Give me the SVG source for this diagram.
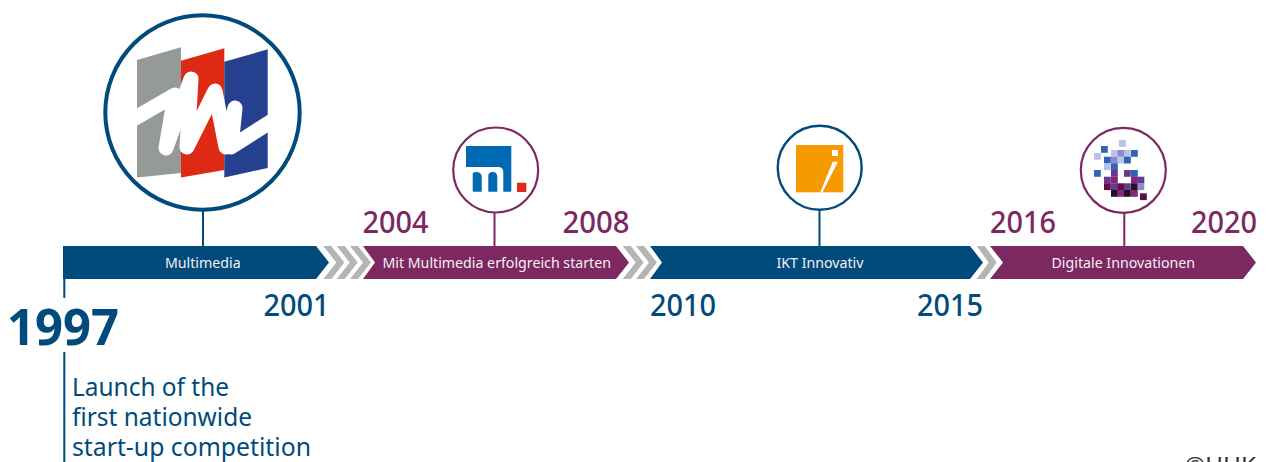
<svg xmlns="http://www.w3.org/2000/svg" width="1266" height="462" viewBox="0 0 1266 462">
<style>
text{font-family:"Noto Sans","Liberation Sans",sans-serif}
.b{fill:#004b7c}.p{fill:#7d2861}.g{fill:#b4b5b4}
.yr{font-size:30px;font-weight:500}
.lb{font-size:14.2px;fill:#f4f0f4;text-anchor:middle}
.d{font-size:25px;fill:#004b7c}
.cb{fill:#fff;stroke:#004b7c}.cp{fill:#fff;stroke:#7d2861;stroke-width:2.2}
rect.x{width:6.800px;height:6.800px}
.l{fill:#b9c2ea}.m{fill:#8a8ad0}.u{fill:#2f66b4}.v{fill:#66398f}.a{fill:#8c2280}.k{fill:#5c1047}.n{fill:#201424}
</style>
<rect width="1266" height="462" fill="#fff"/>
<g id="connectors" fill="none" stroke-width="2">
<path d="M203 211V246" stroke="#004b7c"/>
<path d="M494.500 212V246" stroke="#7d2861"/>
<path d="M819.500 210V246" stroke="#004b7c"/>
<path d="M1124.300 213V246" stroke="#7d2861"/>
<path d="M64.300 279V298M64.300 352V462" stroke="#004b7c"/>
</g>
<g id="chevrons" class="g">
<path d="M323.300 246h8l13 16.500-13 16.500h-8l13-16.500z"/>
<path d="M336.700 246h8l13 16.500-13 16.500h-8l13-16.500z"/>
<path d="M350 246h8l13 16.500-13 16.500h-8l13-16.500z"/>
<path d="M622.700 246h8l13 16.500-13 16.500h-8l13-16.500z"/>
<path d="M636 246h8l13 16.500-13 16.500h-8l13-16.500z"/>
<path d="M976.700 246h8l12 16.500-12 16.500h-8l12-16.500z"/>
</g>
<g id="bar-multimedia">
<path class="b" d="M63 246H316L329 262.500 316 279H63z"/>
<text class="lb" x="202.800" y="268">Multimedia</text>
<text class="yr b" x="263.500" y="316" textLength="66" lengthAdjust="spacingAndGlyphs">2001</text>
</g>
<g id="bar-mit">
<path class="p" d="M363 246H616L629 262.500 616 279H363L375 262.500z"/>
<text class="lb" x="496.700" y="268">Mit Multimedia erfolgreich starten</text>
<text class="yr p" x="362.500" y="232.500" textLength="66" lengthAdjust="spacingAndGlyphs">2004</text>
<text class="yr p" x="562.500" y="232.500" textLength="67" lengthAdjust="spacingAndGlyphs">2008</text>
</g>
<g id="bar-ikt">
<path class="b" d="M650 246H970L983 262.500 970 279H650L662 262.500z"/>
<text class="lb" x="820" y="268">IKT Innovativ</text>
<text class="yr b" x="650" y="316" textLength="66" lengthAdjust="spacingAndGlyphs">2010</text>
<text class="yr b" x="917" y="316" textLength="66" lengthAdjust="spacingAndGlyphs">2015</text>
</g>
<g id="bar-digital">
<path class="p" d="M990 246H1243L1256 262.500 1243 279H990L1003 262.500z"/>
<text class="lb" x="1123.300" y="268">Digitale Innovationen</text>
<text class="yr p" x="990" y="232.500" textLength="66" lengthAdjust="spacingAndGlyphs">2016</text>
<text class="yr p" x="1191" y="232.500" textLength="66" lengthAdjust="spacingAndGlyphs">2020</text>
</g>
<g id="node-multimedia">
<circle class="cb" cx="202.500" cy="112.500" r="97.200" stroke-width="4"/>
<path fill="#959a98" d="M137 60L181 47.300V173L137 177.500z"/>
<path fill="#dc2a14" d="M181 60.700L224.300 48.300V170L181 177.500z"/>
<path fill="#25408f" d="M224.300 61.700L267.700 49.300V168L224.300 177.500z"/>
<path fill="none" stroke="#fff" stroke-width="15" stroke-linejoin="round" d="M130 121L175 95 166 148 191 79 187 147 215 91 226 147 235 108 231 147 275 119"/>
</g>
<g id="node-mit">
<circle class="cp" cx="495.700" cy="170" r="42.500"/>
<path fill="#0069b4" d="M466 146H511.300V191.700H503.300V172Q503.300 167 498 167H466zM472.700 191.700V174Q472.700 172 476 172 481.700 172 481.700 177V191.700zM488.300 191.700V176Q488.300 172 492.500 172 497.300 172 497.300 177V191.700z"/>
<rect x="517" y="182.700" width="9.300" height="9.300" fill="#dc2a1e"/>
</g>
<g id="node-ikt">
<circle class="cb" cx="819.700" cy="167.800" r="42" stroke-width="2.400"/>
<rect x="796" y="145" width="47.300" height="47.300" fill="#f59a00"/>
<rect x="832" y="150" width="6" height="6" fill="#fff"/>
<path fill="#fff" d="M820.300 192.300L832.700 161.700H838L822.500 192.300z"/>
</g>
<g id="node-digital">
<circle class="cp" cx="1123.300" cy="170.300" r="42.500"/>
<g id="pixels">
<rect class="x l" x="1119" y="140"/>
<rect class="x u" x="1101" y="146"/>
<rect class="x l" x="1111" y="150"/><rect class="x m" x="1117.500" y="150"/><rect class="x l" x="1124" y="150"/><rect class="x u" x="1131" y="150"/>
<rect class="x l" x="1094" y="153"/>
<rect class="x u" x="1104" y="156.700"/><rect class="x m" x="1111" y="156.700"/><rect class="x l" x="1117.500" y="156.700"/><rect class="x u" x="1124" y="156.700"/>
<rect class="x l" x="1104" y="163.300"/><rect class="x u" x="1111" y="163.300"/>
<rect class="x u" x="1094" y="170"/><rect class="x v" x="1111" y="170"/><rect class="x v" x="1124" y="170"/><rect class="x u" x="1131" y="170"/>
<rect class="x v" x="1104" y="176.700"/><rect class="x a" x="1111" y="176.700"/><rect class="x a" x="1131" y="176.700"/><rect class="x v" x="1137.500" y="176.700"/>
<rect class="x k" x="1104" y="183.300"/><rect class="x v" x="1111" y="183.300"/><rect class="x k" x="1117.500" y="183.300"/><rect class="x v" x="1124" y="183.300"/><rect class="x n" x="1131" y="183.300"/><rect class="x m" x="1137.500" y="183.300"/>
<rect class="x n" x="1111" y="190"/><rect class="x a" x="1117.500" y="190"/><rect class="x n" x="1124" y="190"/><rect class="x a" x="1131" y="190"/>
<rect class="x k" x="1140" y="193.300"/>
</g>
</g>
<g id="label-1997">
<text x="7" y="345" font-size="51" font-weight="700" class="b" textLength="112" lengthAdjust="spacingAndGlyphs">1997</text>
<text class="d" x="72" y="396" textLength="157" lengthAdjust="spacingAndGlyphs">Launch of the</text>
<text class="d" x="72" y="426" textLength="180" lengthAdjust="spacingAndGlyphs">first nationwide</text>
<text class="d" x="72" y="456" textLength="239" lengthAdjust="spacingAndGlyphs">start-up competition</text>
</g>
<text x="1185" y="473" font-size="22.500" fill="#333" textLength="71" lengthAdjust="spacingAndGlyphs">©UHK</text>
</svg>
